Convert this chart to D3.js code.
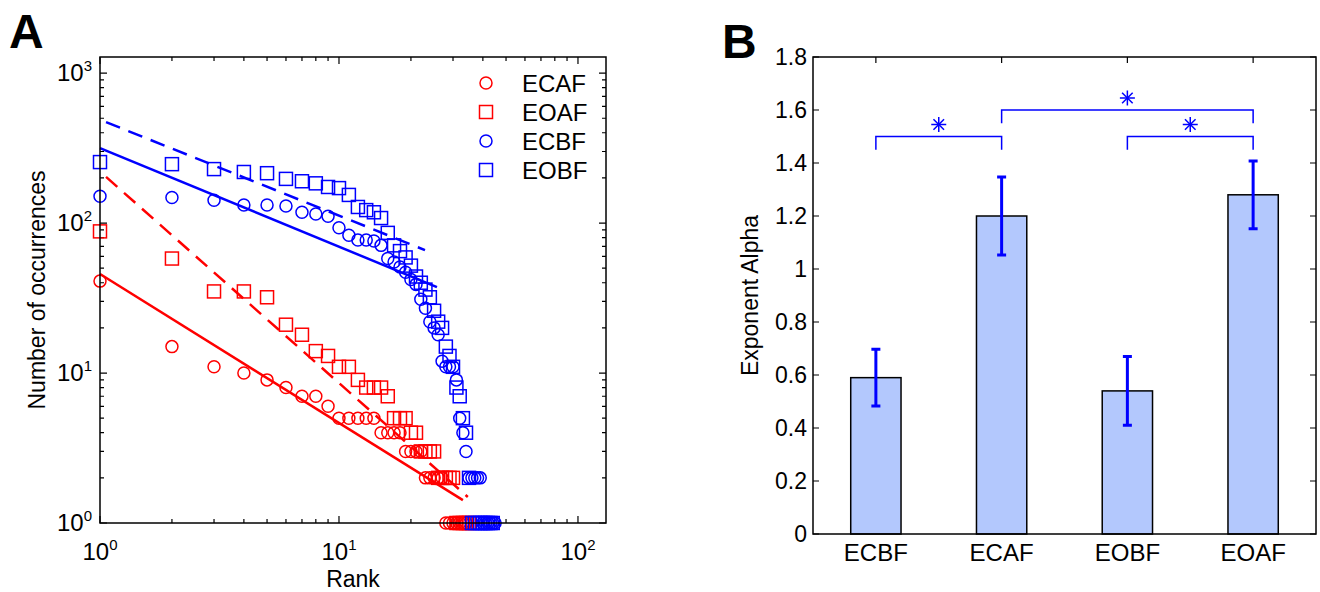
<!DOCTYPE html>
<html>
<head>
<meta charset="utf-8">
<script src="https://cdn.jsdelivr.net/npm/d3@7"></script>
<style>
  body { margin: 0; background: #fff; }
  text { font-family: "Liberation Sans", Arial, sans-serif; fill: #000; }
</style>
</head>
<body>
<svg id="chart" width="1320" height="592"></svg>
<script>
// ---- Panel A data: occurrences by rank ----
const ecafCounts = [41, 15, 11, 10, 9, 8, 7, 7, 6, 5, 5, 5, 5, 5, 4, 4, 4, 4, 3, 3, 3, 3,
    2, 2, 2, 2, 2, 1, 1, 1, 1, 1, 1, 1];
const eoafCounts = [88, 58, 35, 35, 32, 21, 18, 14, 13, 11, 11, 9, 8, 8, 8, 7, 5, 5, 5, 4, 4,
    3, 3, 3, 3, 2, 2, 2, 2, 2, 1, 1, 1, 1, 1];
const ecbfCounts = [151, 148, 142, 132, 132, 130, 118, 115, 111, 93, 83, 77, 77, 76, 71, 58, 55,
    51, 47, 42, 39, 31, 27, 22, 20, 18, 12, 11, 11, 11, 9, 5, 4, 3, 2, 2, 2, 2, 2, 1, 1, 1, 1, 1, 1];
const eobfCounts = [255, 247, 229, 219, 215, 197, 190, 184, 174, 171, 154, 128, 122, 118, 108, 86,
    71, 65, 59, 52, 44, 40, 36, 32, 26, 22, 20, 15, 13, 11, 8, 7, 5, 4, 2, 1, 1, 1, 1, 1, 1, 1, 1, 1];

// power-law fit lines, end points as [rank, count]
const ecafFit = [[1, 45.7], [33, 1.42]];
const eoafFit = [[1.06, 203], [34.6, 1.49]];
const ecbfFit = [[1, 316], [25.7, 37.4]];
const eobfFit = [[1.06, 471], [22.9, 66]];

const seriesNames = ["ECAF", "EOAF", "ECBF", "EOBF"];
const xTicksA = [1, 10, 100];
const yTicksA = [1, 10, 100, 1000];

// ---- Panel B data: exponent alpha ----
const categories = ["ECBF", "ECAF", "EOBF", "EOAF"];
const alphaValues = [0.59, 1.2, 0.54, 1.28];
const alphaErrors = [0.107, 0.147, 0.13, 0.128];
const sigPairs = [["ECBF", "ECAF"], ["ECAF", "EOAF"], ["EOBF", "EOAF"]];
const sigLevels = [1.5, 1.6, 1.5];
const yTicksB = [0, 0.2, 0.4, 0.6, 0.8, 1, 1.2, 1.4, 1.6, 1.8];

const svg = d3.select("#chart");
const RED = "#ff0000", BLUE = "#0000ff";

// ================= Panel A =================
const a = {left: 100, right: 606, top: 57, bottom: 523};
const xA = d3.scaleLog().domain([1, 131]).range([a.left, a.right]);
const yA = d3.scaleLog().domain([1, 1280]).range([a.bottom, a.top]);

const series = [
    {name: "ECAF", counts: ecafCounts, shape: "circle", color: RED, fit: ecafFit, dash: null},
    {name: "EOAF", counts: eoafCounts, shape: "square", color: RED, fit: eoafFit, dash: "15,9"},
    {name: "ECBF", counts: ecbfCounts, shape: "circle", color: BLUE, fit: ecbfFit, dash: null},
    {name: "EOBF", counts: eobfCounts, shape: "square", color: BLUE, fit: eobfFit, dash: "15,9"}
];

function drawMarker(g, shape, color, x, y) {
    if (shape === "circle") {
        g.append("circle").attr("cx", x).attr("cy", y).attr("r", 6)
            .attr("fill", "none").attr("stroke", color).attr("stroke-width", 1.5);
    } else {
        g.append("rect").attr("x", x - 6.5).attr("y", y - 6.5)
            .attr("width", 13).attr("height", 13)
            .attr("fill", "none").attr("stroke", color).attr("stroke-width", 1.5);
    }
}

// minor + major log ticks
function logTicks(majors, max) {
    let out = [];
    majors.forEach(m => {
        for (let k = 1; k <= 9; k++) {
            let v = m * k;
            if (v <= max) out.push({v: v, major: k === 1});
        }
    });
    return out;
}
const gA = svg.append("g");
const tickX = logTicks(xTicksA, 131);
const tickY = logTicks(yTicksA, 1280);

gA.selectAll(".xt").data(tickX).enter().append("path")
    .attr("d", d => {
        let x = xA(d.v), l = d.major ? 7 : 4;
        return `M${x},${a.bottom}v${-l}M${x},${a.top}v${l}`;
    })
    .attr("stroke", "#000").attr("stroke-width", 1.2);
gA.selectAll(".yt").data(tickY).enter().append("path")
    .attr("d", d => {
        let y = yA(d.v), l = d.major ? 7 : 4;
        return `M${a.left},${y}h${l}M${a.right},${y}h${-l}`;
    })
    .attr("stroke", "#000").attr("stroke-width", 1.2);

// markers
series.forEach(s => {
    let g = gA.append("g");
    s.counts.forEach((c, i) => drawMarker(g, s.shape, s.color, xA(i + 1), yA(c)));
});

// fit lines
series.forEach(s => {
    gA.append("path")
        .attr("d", d3.line().x(d => xA(d[0])).y(d => yA(d[1]))(s.fit))
        .attr("fill", "none").attr("stroke", s.color).attr("stroke-width", 2.5)
        .attr("stroke-dasharray", s.dash);
});

gA.append("rect").attr("x", a.left).attr("y", a.top)
    .attr("width", a.right - a.left).attr("height", a.bottom - a.top)
    .attr("fill", "none").attr("stroke", "#000").attr("stroke-width", 1.5);

// tick labels with superscripts
xTicksA.forEach(v => {
    let t = gA.append("text").attr("x", xA(v)).attr("y", 560)
        .attr("text-anchor", "middle").attr("font-size", 24);
    t.append("tspan").text("10");
    t.append("tspan").attr("dy", -10).attr("font-size", 15).text(Math.round(Math.log10(v)));
});
yTicksA.forEach(v => {
    let t = gA.append("text").attr("x", 92).attr("y", yA(v) + 8)
        .attr("text-anchor", "end").attr("font-size", 24);
    t.append("tspan").text("10");
    t.append("tspan").attr("dy", -10).attr("font-size", 15).text(Math.round(Math.log10(v)));
});

gA.append("text").attr("x", (a.left + a.right) / 2).attr("y", 587)
    .attr("text-anchor", "middle").attr("font-size", 23).text("Rank");
gA.append("text").attr("transform", `translate(45,${(a.top + a.bottom) / 2}) rotate(-90)`)
    .attr("text-anchor", "middle").attr("font-size", 23).text("Number of occurrences");

// legend
const leg = gA.append("g");
seriesNames.forEach((n, i) => {
    let s = series.find(d => d.name === n);
    let y = 83 + i * 29;
    drawMarker(leg, s.shape, s.color, 486, y);
    leg.append("text").attr("x", 522).attr("y", y + 9).attr("font-size", 24).text(n);
});

svg.append("text").attr("x", 9).attr("y", 48).attr("font-size", 48)
    .attr("font-weight", "bold").text("A");

// ================= Panel B =================
const b = {left: 813, right: 1316, top: 57, bottom: 534};
const xB = d3.scaleBand().domain(categories).range([b.left, b.right])
    .paddingInner(0.6).paddingOuter(0.3);
const yB = d3.scaleLinear().domain([0, 1.8]).range([b.bottom, b.top]);
const gB = svg.append("g");
const cx = c => xB(c) + xB.bandwidth() / 2;

// ticks (inward, mirrored)
gB.selectAll(".yt").data(yTicksB).enter().append("path")
    .attr("d", d => `M${b.left},${yB(d)}h6M${b.right},${yB(d)}h-6`)
    .attr("stroke", "#000").attr("stroke-width", 1.2);
gB.selectAll(".xt").data(categories).enter().append("path")
    .attr("d", d => `M${cx(d)},${b.top}v6M${cx(d)},${b.bottom}v-6`)
    .attr("stroke", "#000").attr("stroke-width", 1.2);

// bars
gB.selectAll(".bar").data(categories).enter().append("rect")
    .attr("x", d => xB(d)).attr("width", xB.bandwidth())
    .attr("y", (d, i) => yB(alphaValues[i]))
    .attr("height", (d, i) => yB(0) - yB(alphaValues[i]))
    .attr("fill", "#b3c8fd").attr("stroke", "#000").attr("stroke-width", 1.5);

// error bars
categories.forEach((c, i) => {
    let lo = yB(alphaValues[i] - alphaErrors[i]), hi = yB(alphaValues[i] + alphaErrors[i]);
    let x = cx(c);
    gB.append("path")
        .attr("d", `M${x},${lo}V${hi}M${x - 4.5},${hi}h9M${x - 4.5},${lo}h9`)
        .attr("stroke", BLUE).attr("stroke-width", 3).attr("fill", "none");
});

// significance brackets
sigPairs.forEach((p, i) => {
    let x1 = cx(p[0]), x2 = cx(p[1]);
    let y = yB(sigLevels[i]), yl = yB(sigLevels[i] - 0.05);
    gB.append("path")
        .attr("d", `M${x1},${yl}V${y}H${x2}V${yl}`)
        .attr("stroke", BLUE).attr("stroke-width", 1.5).attr("fill", "none");
    let sx = (x1 + x2) / 2, sy = y - 12, r = 7.5;
    let star = gB.append("g").attr("transform", `translate(${sx},${sy})`);
    [0, 45, 90, 135].forEach(ang => {
        let rad = ang * Math.PI / 180;
        star.append("line")
            .attr("x1", -r * Math.cos(rad)).attr("y1", -r * Math.sin(rad))
            .attr("x2", r * Math.cos(rad)).attr("y2", r * Math.sin(rad))
            .attr("stroke", BLUE).attr("stroke-width", 1.5);
    });
});

gB.append("rect").attr("x", b.left).attr("y", b.top)
    .attr("width", b.right - b.left).attr("height", b.bottom - b.top)
    .attr("fill", "none").attr("stroke", "#000").attr("stroke-width", 1.5);

gB.selectAll(".yl").data(yTicksB).enter().append("text")
    .attr("x", 807).attr("y", d => yB(d) + 8)
    .attr("text-anchor", "end").attr("font-size", 23)
    .text(d => String(+d.toFixed(1)));
gB.selectAll(".xl").data(categories).enter().append("text")
    .attr("x", d => cx(d)).attr("y", 561)
    .attr("text-anchor", "middle").attr("font-size", 24).text(d => d);
gB.append("text").attr("transform", `translate(758,${(b.top + b.bottom) / 2}) rotate(-90)`)
    .attr("text-anchor", "middle").attr("font-size", 23).text("Exponent Alpha");

svg.append("text").attr("x", 722).attr("y", 58).attr("font-size", 48)
    .attr("font-weight", "bold").text("B");
</script>
</body>
</html>
